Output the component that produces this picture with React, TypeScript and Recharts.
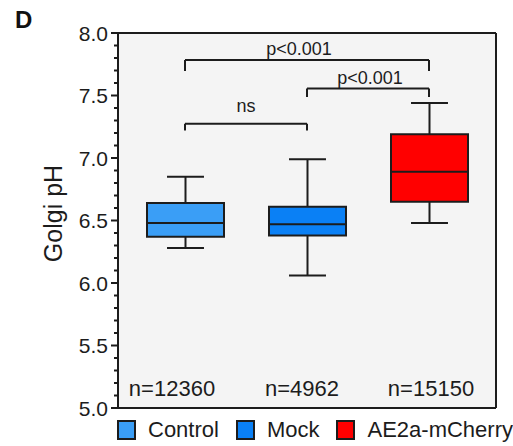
import {
  ComposedChart,
  Bar,
  XAxis,
  YAxis,
  CartesianGrid,
  ReferenceLine,
  ReferenceDot,
  Legend,
} from 'recharts';

const categories = ['Control', 'Mock', 'AE2a-mCherry'];
const whiskerLow = [6.28, 6.06, 6.48];
const q1 = [6.37, 6.38, 6.65];
const median = [6.48, 6.47, 6.89];
const q3 = [6.64, 6.61, 7.19];
const whiskerHigh = [6.85, 6.99, 7.44];
const counts = ['n=12360', 'n=4962', 'n=15150'];
const countLevel = 5.16;

const yTicks = [
  5.0, 5.1, 5.2, 5.3, 5.4, 5.5, 5.6, 5.7, 5.8, 5.9,
  6.0, 6.1, 6.2, 6.3, 6.4, 6.5, 6.6, 6.7, 6.8, 6.9,
  7.0, 7.1, 7.2, 7.3, 7.4, 7.5, 7.6, 7.7, 7.8, 7.9, 8.0,
];

// significance brackets: from / to category, bar level, tip level, text
const brackets = [
  { from: 'Control', to: 'Mock', level: 7.274, tip: 7.22, text: 'ns' },
  { from: 'Control', to: 'AE2a-mCherry', level: 7.785, tip: 7.697, text: 'p<0.001' },
  { from: 'Mock', to: 'AE2a-mCherry', level: 7.556, tip: 7.489, text: 'p<0.001' },
];

const colors = ['#3a9ef6', '#0a80f5', '#ff0000'];
const ink = '#1c1c1c';
const font = '"Liberation Sans", Arial, Helvetica, sans-serif';
const labelOffsets = [12, 5, 5];
const labelShift = [0, -8, 2];
const countShift = [-13, -5, 2];

const data = categories.map((name, i) => ({
  name,
  low: whiskerLow[i],
  q1: q1[i],
  median: median[i],
  q3: q3[i],
  high: whiskerHigh[i],
}));

function BoxShape(props: any) {
  const { x, y, width, height, payload, index } = props;
  const top = Math.min(y, y + height);
  const h = Math.abs(height);
  const unit = h / (payload.q3 - payload.q1);
  const py = (v: number) => top + (payload.q3 - v) * unit;
  const cx = x + width / 2;
  const cap = width * 0.24;
  return (
    <g stroke={ink} strokeWidth={2}>
      <line x1={cx} x2={cx} y1={py(payload.high)} y2={top} />
      <line x1={cx} x2={cx} y1={top + h} y2={py(payload.low)} />
      <line x1={cx - cap} x2={cx + cap} y1={py(payload.high)} y2={py(payload.high)} />
      <line x1={cx - cap} x2={cx + cap} y1={py(payload.low)} y2={py(payload.low)} />
      <rect x={x} y={top} width={width} height={h} fill={colors[index]} />
      <line x1={x} x2={x + width} y1={py(payload.median)} y2={py(payload.median)} />
    </g>
  );
}

function YTick(props: any) {
  const { x, y, payload } = props;
  const v = payload.value;
  const major = Math.abs(v * 2 - Math.round(v * 2)) < 1e-6;
  const len = major ? 7 : 4;
  return (
    <g>
      <line x1={x - len} x2={x} y1={y} y2={y} stroke={ink} strokeWidth={2} />
      {major && (
        <text x={x - 10} y={y} dy={7.5} textAnchor="end" fontSize={21} fontFamily={font} fill={ink}>
          {v.toFixed(1)}
        </text>
      )}
    </g>
  );
}

function YLabel(props: any) {
  const vb = props.viewBox;
  const cx = vb.x + 62;
  const cy = vb.y + vb.height / 2 - 7;
  return (
    <text
      x={cx}
      y={cy}
      transform={`rotate(-90, ${cx}, ${cy})`}
      textAnchor="middle"
      fontSize={25}
      fontFamily={font}
      fill={ink}
    >
      Golgi pH
    </text>
  );
}

function LegendBox() {
  return (
    <div
      style={{
        height: 37,
        width: 513,
        display: 'flex',
        flexWrap: 'nowrap',
        whiteSpace: 'nowrap',
        alignItems: 'center',
        paddingLeft: 117,
        paddingTop: 4,
        boxSizing: 'border-box',
        fontFamily: font,
        fontSize: 22,
        color: ink,
      }}
    >
      {categories.map((c, i) => (
        <div key={c} style={{ display: 'flex', alignItems: 'center', marginRight: 17, flexShrink: 0 }}>
          <span
            style={{
              width: 15,
              height: 16,
              background: colors[i],
              border: `2px solid ${ink}`,
              marginRight: 12,
              display: 'inline-block',
            }}
          />
          <span>{c}</span>
        </div>
      ))}
    </div>
  );
}

export default function App() {
  return (
    <div style={{ position: 'absolute', left: 0, top: 0, width: 513, height: 446, background: '#fff' }}>
      <svg width={60} height={40} style={{ position: 'absolute', left: 0, top: 0 }}>
        <text x={15} y={28} fontSize={24} fontWeight="bold" fontFamily={font} fill="#111">
          D
        </text>
      </svg>
      <ComposedChart
        width={513}
        height={446}
        data={data}
        margin={{ top: 32, right: 16, bottom: 0, left: 0 }}
      >
        <CartesianGrid fill="#f4f4f4" horizontal={false} vertical={false} />
        <XAxis
          dataKey="name"
          height={1}
          tick={false}
          tickLine={false}
          padding={{ left: 6, right: 6 }}
          axisLine={{ stroke: ink, strokeWidth: 2 }}
        />
        <XAxis
          xAxisId="top"
          orientation="top"
          dataKey="name"
          height={1}
          tick={false}
          tickLine={false}
          axisLine={{ stroke: ink, strokeWidth: 2 }}
        />
        <YAxis
          domain={[5, 8]}
          ticks={yTicks}
          interval={0}
          width={118}
          tickSize={0}
          tickMargin={0}
          tickLine={false}
          tick={<YTick />}
          axisLine={{ stroke: ink, strokeWidth: 2 }}
          label={{ content: <YLabel /> }}
        />
        <YAxis
          yAxisId="frame"
          orientation="right"
          domain={[5, 8]}
          width={1}
          tick={false}
          tickLine={false}
          axisLine={{ stroke: ink, strokeWidth: 2 }}
        />
        <Legend verticalAlign="bottom" wrapperStyle={{ left: 0, width: 513 }} content={<LegendBox />} />
        <Bar
          dataKey={(d: any) => [d.q1, d.q3]}
          barSize={77}
          shape={<BoxShape />}
          isAnimationActive={false}
        />
        {brackets.map((b, i) => (
          <ReferenceLine
            key={`h${i}`}
            segment={[
              { x: b.from, y: b.level },
              { x: b.to, y: b.level },
            ]}
            stroke={ink}
            strokeWidth={2}
            label={{
              value: b.text,
              position: 'top',
              offset: labelOffsets[i],
              fontSize: 18,
              fontFamily: font,
              fill: ink,
              dx: labelShift[i],
            }}
          />
        ))}
        {brackets.map((b, i) => (
          <ReferenceLine
            key={`l${i}`}
            segment={[
              { x: b.from, y: b.level },
              { x: b.from, y: b.tip },
            ]}
            stroke={ink}
            strokeWidth={2}
          />
        ))}
        {brackets.map((b, i) => (
          <ReferenceLine
            key={`r${i}`}
            segment={[
              { x: b.to, y: b.level },
              { x: b.to, y: b.tip },
            ]}
            stroke={ink}
            strokeWidth={2}
          />
        ))}
        {categories.map((c, i) => (
          <ReferenceDot
            key={`n${i}`}
            x={c}
            y={countLevel}
            r={1}
            fill="none"
            stroke="none"
            label={{
              value: counts[i],
              position: 'center',
              fontSize: 22,
              fontFamily: font,
              fill: ink,
              dx: countShift[i],
            }}
          />
        ))}
      </ComposedChart>
    </div>
  );
}
